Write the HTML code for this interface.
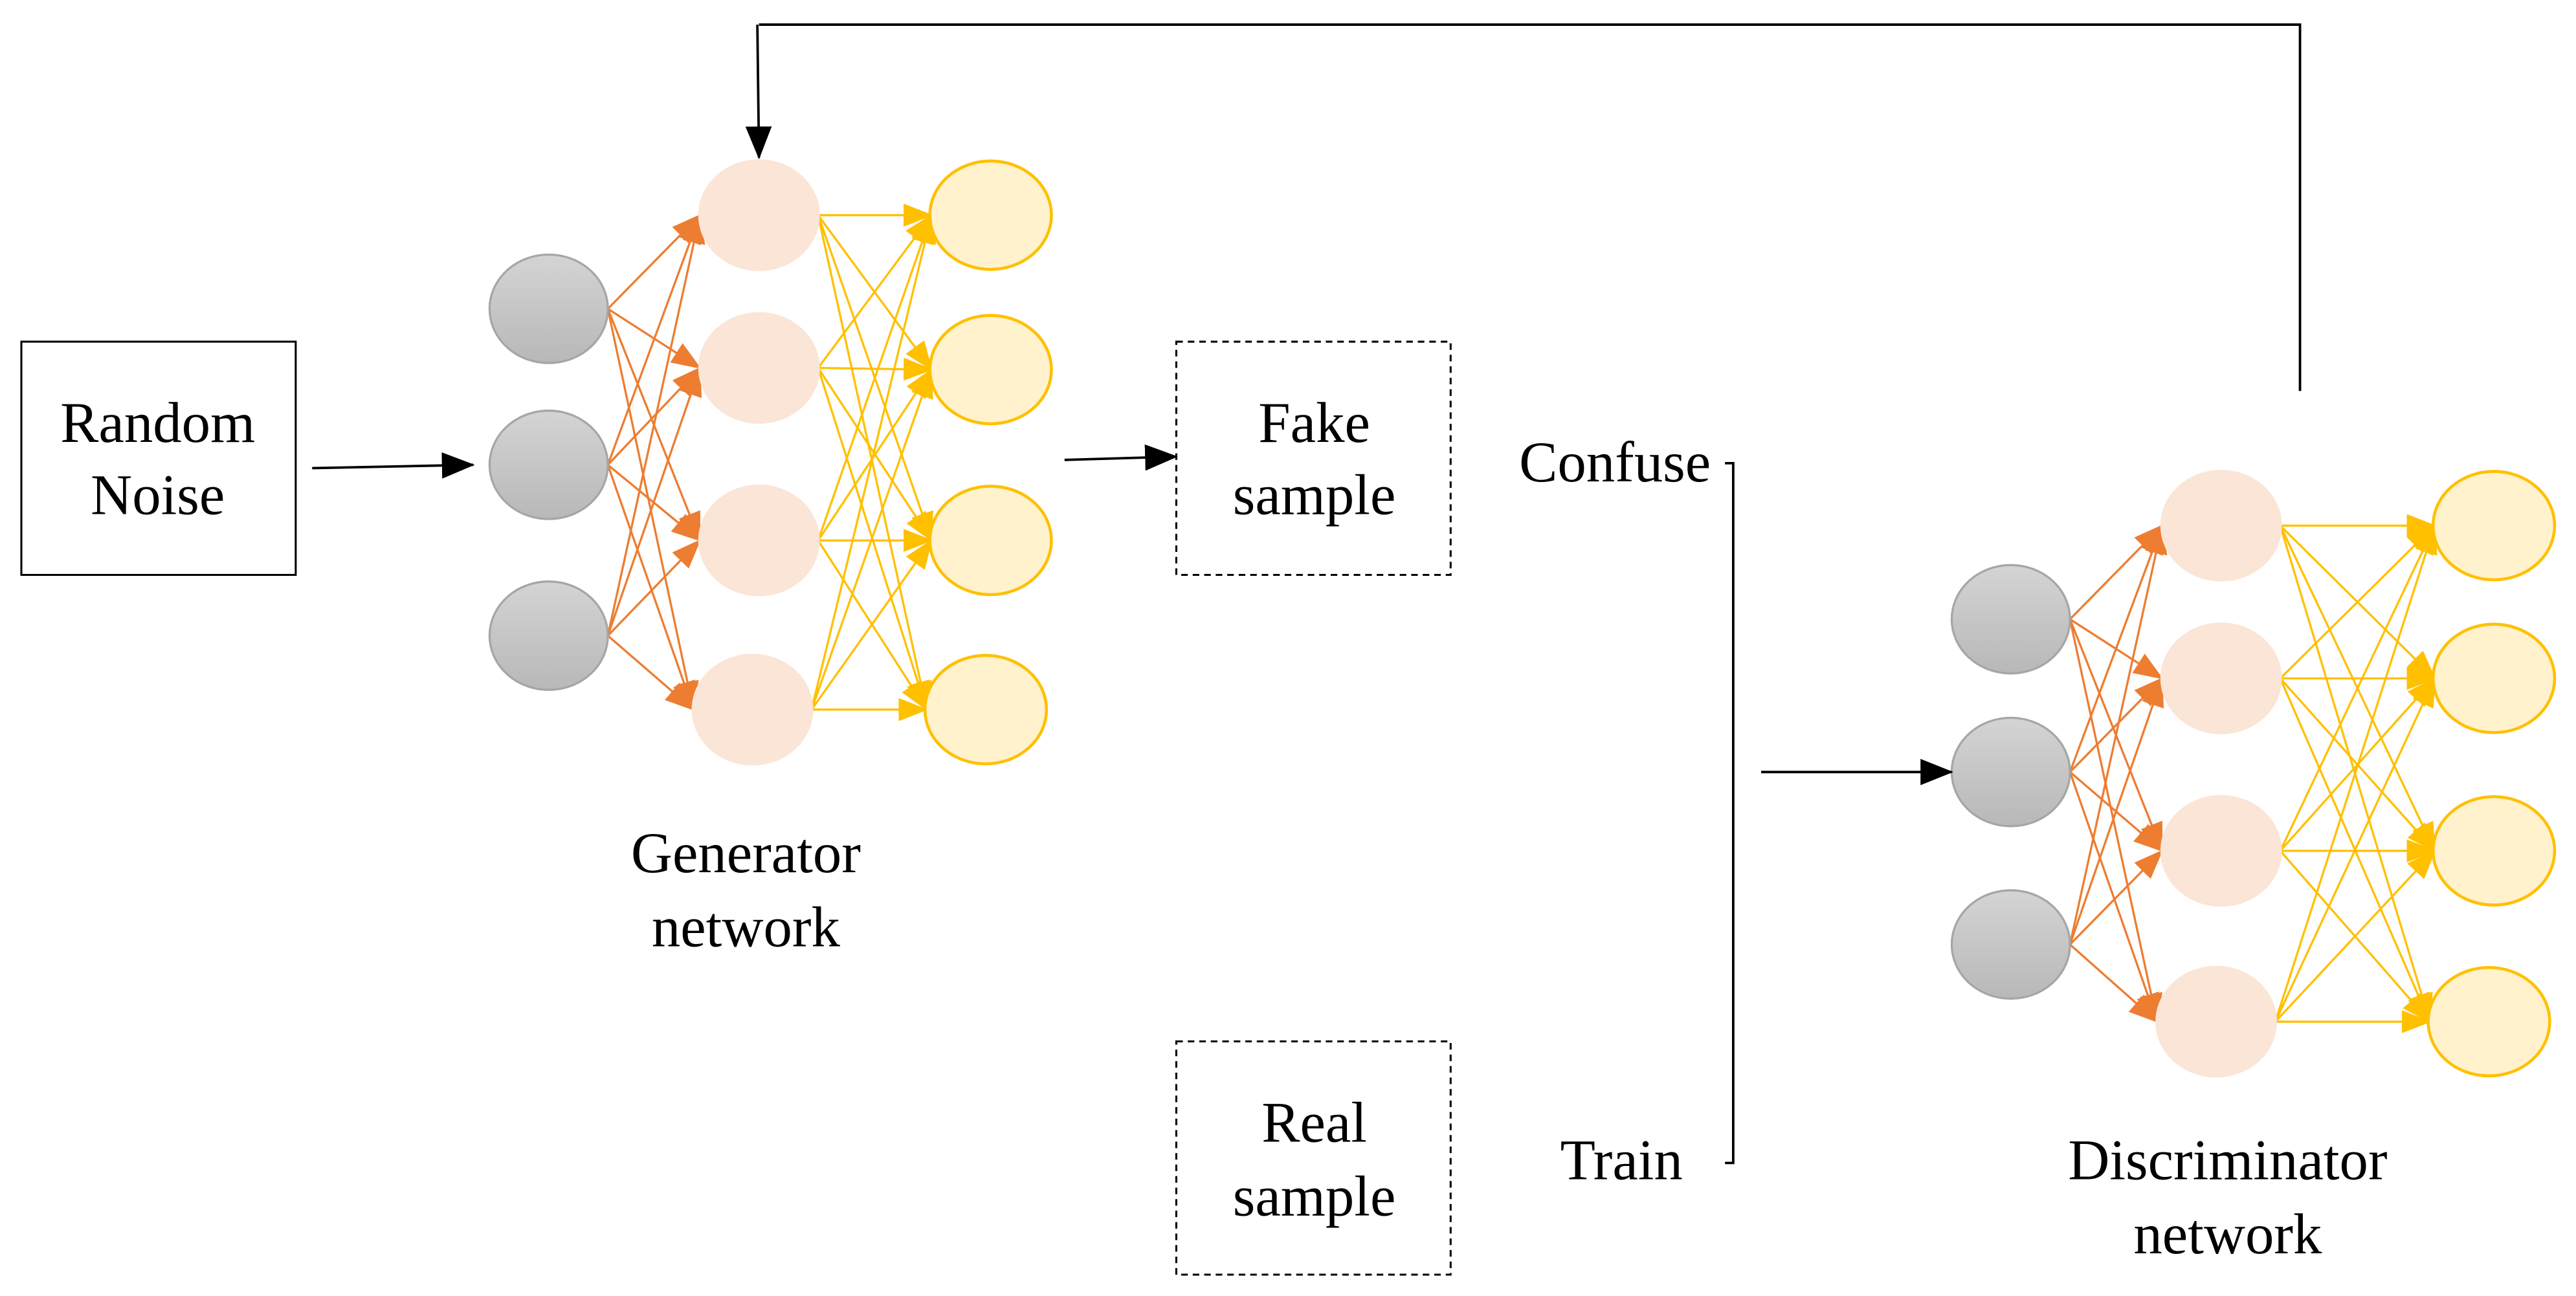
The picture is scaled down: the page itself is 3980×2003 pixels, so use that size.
<!DOCTYPE html>
<html><head><meta charset="utf-8"><style>
html,body{margin:0;padding:0;background:#fff;}
svg{display:block;}
text{font-family:"Liberation Serif",serif;font-size:35px;fill:#000;text-anchor:middle;}
</style></head><body>
<svg id="s" width="3980" height="2003" viewBox="0 0 1568 789" preserveAspectRatio="none" xmlns="http://www.w3.org/2000/svg">
<defs>
<linearGradient id="g" x1="0" y1="0" x2="0" y2="1"><stop offset="0" stop-color="#d4d4d4"/><stop offset="1" stop-color="#b8b8b8"/></linearGradient>
<marker id="ao" markerUnits="userSpaceOnUse" markerWidth="18" markerHeight="14" refX="17" refY="7" orient="auto"><path d="M0,0 L18,7 L0,14 Z" fill="#ED7D31"/></marker>
<marker id="ay" markerUnits="userSpaceOnUse" markerWidth="18" markerHeight="14" refX="17" refY="7" orient="auto"><path d="M0,0 L18,7 L0,14 Z" fill="#FFC000"/></marker>
<marker id="ab" markerUnits="userSpaceOnUse" markerWidth="20" markerHeight="16" refX="19" refY="8" orient="auto"><path d="M0,0 L20,8 L0,16 Z" fill="#000"/></marker>
</defs>
<g id="net"></g>
<!-- boxes -->
<rect x="13" y="208" width="167" height="142" fill="none" stroke="#000" stroke-width="1.2"/>
<text x="96" y="269">Random</text><text x="96" y="313">Noise</text>
<rect x="716" y="208" width="167" height="142" fill="none" stroke="#000" stroke-width="1.2" stroke-dasharray="4,3"/>
<text x="800" y="269">Fake</text><text x="800" y="313">sample</text>
<rect x="716" y="634" width="167" height="142" fill="none" stroke="#000" stroke-width="1.2" stroke-dasharray="4,3"/>
<text x="800" y="695">Real</text><text x="800" y="740">sample</text>
<text x="454" y="531">Generator</text><text x="454" y="576">network</text>
<text x="1356" y="718">Discriminator</text><text x="1356" y="763">network</text>
<text x="983" y="293">Confuse</text><text x="987" y="718">Train</text>
<!-- arrows -->
<line x1="190" y1="285" x2="288" y2="283" stroke="#000" stroke-width="1.5" marker-end="url(#ab)"/>
<line x1="648" y1="280" x2="716" y2="278" stroke="#000" stroke-width="1.5" marker-end="url(#ab)"/>
<line x1="1072" y1="470" x2="1188" y2="470" stroke="#000" stroke-width="1.5" marker-end="url(#ab)"/>
<polyline points="1400,238 1400,15 462,15" fill="none" stroke="#000" stroke-width="1.5"/>
<line x1="461" y1="15" x2="462" y2="96" stroke="#000" stroke-width="1.5" marker-end="url(#ab)"/>
<polyline points="1050,282 1055,282 1055,708 1050,708" fill="none" stroke="#000" stroke-width="1.5"/>
</svg>
<script>
var NS="http://www.w3.org/2000/svg",net=document.getElementById("net");
function el(t,a){var e=document.createElementNS(NS,t);for(var k in a)e.setAttribute(k,a[k]);net.appendChild(e);return e;}
function build(gx,gy,px,py,yx,yy){
 for(var i=0;i<3;i++)for(var j=0;j<4;j++)
  el("line",{x1:gx+36,y1:gy[i],x2:px[j]-36,y2:py[j],stroke:"#ED7D31","stroke-width":1.3,"marker-end":"url(#ao)"});
 for(var i=0;i<4;i++)for(var j=0;j<4;j++)
  el("line",{x1:px[i]+36,y1:py[i],x2:yx[j]-36,y2:yy[j],stroke:"#FFC000","stroke-width":1.3,"marker-end":"url(#ay)"});
 for(var i=0;i<3;i++)el("ellipse",{cx:gx,cy:gy[i],rx:36,ry:33,fill:"url(#g)",stroke:"#a6a6a6","stroke-width":1.3});
 for(var i=0;i<4;i++)el("ellipse",{cx:px[i],cy:py[i],rx:37,ry:34,fill:"#FBE5D6"});
 for(var i=0;i<4;i++)el("ellipse",{cx:yx[j=i],cy:yy[i],rx:37,ry:33,fill:"#FFF2CC",stroke:"#FFC000","stroke-width":1.8});
}
build(334,[188,283,387],[462,462,462,458],[131,224,329,432],[603,603,603,600],[131,225,329,432]);
build(1224,[377,470,575],[1352,1352,1352,1349],[320,413,518,622],[1518,1518,1518,1515],[320,413,518,622]);
</script>
</body></html>
